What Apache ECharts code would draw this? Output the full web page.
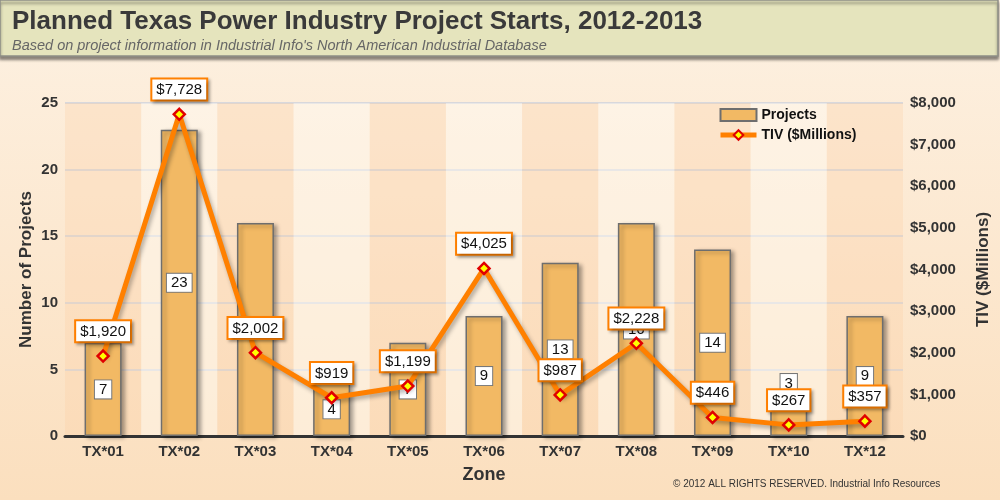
<!DOCTYPE html>
<html>
<head>
<meta charset="utf-8">
<script src="https://cdn.jsdelivr.net/npm/echarts@6/dist/echarts.min.js"></script>
<style>
html,body{margin:0;padding:0;}
#c{width:1000px;height:500px;}
</style>
</head>
<body>
<div id="c"></div>
<script>
var zones = ['TX*01','TX*02','TX*03','TX*04','TX*05','TX*06','TX*07','TX*08','TX*09','TX*10','TX*12'];
var projects = [7, 23, 16, 4, 7, 9, 13, 16, 14, 3, 9];
var tiv = [1920, 7728, 2002, 919, 1199, 4025, 987, 2228, 446, 267, 357];
var leftTicks = {min: 0, max: 25, interval: 5};
var rightTicks = {min: 0, max: 8000, interval: 1000};

function commas(v){ return String(v).replace(/\B(?=(\d{3})+(?!\d))/g, ','); }

var chart = echarts.init(document.getElementById('c'));
var font = 'Liberation Sans, Arial, Helvetica, sans-serif';

var barData = projects.map(function(v){
  return v < 4 ? {value: v, label: {position: 'top', distance: 4}} : v;
});

chart.setOption({
  backgroundColor: {
    type: 'linear', x: 0, y: 0, x2: 0, y2: 1,
    colorStops: [{offset: 0, color: '#fdf1e2'}, {offset: 1, color: '#fbdfbe'}]
  },
  textStyle: {fontFamily: font},
  graphic: [
    {type: 'rect', shape: {x: 0, y: 0, width: 998, height: 56},
     style: {fill: '#e5e4bd', stroke: '#8e8e86', lineWidth: 1.5,
       shadowColor: 'rgba(0,0,0,0.45)', shadowBlur: 3, shadowOffsetY: 3}, z: 0},
    {type: 'text', left: 12, top: 9,
     style: {text: 'Planned Texas Power Industry Project Starts, 2012-2013',
       font: 'bold 26px ' + font, fill: '#3a3a3a'}, z: 1},
    {type: 'text', left: 12, top: 38,
     style: {text: "Based on project information in Industrial Info's North American Industrial Database",
       font: 'italic 14.5px ' + font, fill: '#666'}, z: 1},
    {type: 'text', left: 673, top: 479,
     style: {text: '\u00a9 2012 ALL RIGHTS RESERVED. Industrial Info Resources',
       font: '10px ' + font, fill: '#333'}, z: 1}
  ],
  legend: {
    left: 713, top: 103, orient: 'vertical', itemGap: 6,
    itemWidth: 36, itemHeight: 12,
    textStyle: {fontFamily: font, fontWeight: 'bold', fontSize: 14, color: '#111'},
    data: [
      {name: 'Projects', icon: 'rect'},
      {name: 'TIV ($Millions)', lineStyle: {width: 5}}
    ]
  },
  grid: {left: 65, right: 95, top: 103, bottom: 64},
  xAxis: {
    type: 'category', data: zones,
    axisLine: {lineStyle: {color: '#333', width: 3}},
    axisTick: {show: false},
    axisLabel: {fontFamily: font, fontWeight: 'bold', fontSize: 15, color: '#333', margin: 8},
    splitArea: {show: true, areaStyle: {color: ['rgba(250,205,160,0.28)', 'rgba(255,250,242,0.45)']}},
    name: 'Zone', nameLocation: 'middle', nameGap: 30, nameMoveOverlap: false,
    nameTextStyle: {fontFamily: font, fontWeight: 'bold', fontSize: 18, color: '#333'}
  },
  yAxis: [
    {type: 'value', min: leftTicks.min, max: leftTicks.max, interval: leftTicks.interval,
     axisLine: {show: false}, axisTick: {show: false},
     axisLabel: {fontFamily: font, fontWeight: 'bold', fontSize: 15, color: '#333', margin: 7},
     splitLine: {lineStyle: {color: '#d8d8dc', width: 2}},
     name: 'Number of Projects', nameLocation: 'middle', nameGap: 30, nameMoveOverlap: false,
     nameTextStyle: {fontFamily: font, fontWeight: 'bold', fontSize: 17, color: '#333'}},
    {type: 'value', min: rightTicks.min, max: rightTicks.max, interval: rightTicks.interval,
     axisLine: {show: false}, axisTick: {show: false}, splitLine: {show: false},
     axisLabel: {fontFamily: font, fontWeight: 'bold', fontSize: 15, color: '#333', margin: 7,
       formatter: function(v){ return '$' + commas(v); }},
     name: 'TIV ($Millions)', nameLocation: 'middle', nameGap: 72, nameMoveOverlap: false,
     nameTextStyle: {fontFamily: font, fontWeight: 'bold', fontSize: 17, color: '#333'}}
  ],
  series: [
    {name: 'Projects', type: 'bar', data: barData, barWidth: 37, yAxisIndex: 0,
     itemStyle: {color: '#f2b964', borderColor: '#6e6e6e', borderWidth: 1.5,
       shadowColor: 'rgba(0,0,0,0.35)', shadowBlur: 4, shadowOffsetX: 3, shadowOffsetY: 2},
     label: {show: true, position: 'inside', fontFamily: font, fontSize: 15, color: '#111',
       backgroundColor: '#fff', borderColor: '#777', borderWidth: 1, padding: [2, 4, 1, 4]},
     z: 2},
    {name: 'TIV ($Millions)', type: 'line', data: tiv, yAxisIndex: 1,
     symbol: 'diamond', symbolSize: 11,
     lineStyle: {color: '#ff8000', width: 5, shadowColor: 'rgba(0,0,0,0.3)', shadowBlur: 4, shadowOffsetX: 2, shadowOffsetY: 3},
     itemStyle: {color: '#ffff00', borderColor: '#e00000', borderWidth: 2.5},
     label: {show: true, position: 'top', distance: 8, fontFamily: font, fontSize: 15, color: '#111',
       backgroundColor: '#fff', borderColor: '#ff8000', borderWidth: 2, padding: [3, 4, 2, 4],
       shadowColor: 'rgba(0,0,0,0.3)', shadowBlur: 3, shadowOffsetX: 2, shadowOffsetY: 2,
       formatter: function(p){ return '$' + commas(p.value); }},
     z: 5}
  ]
});
</script>
</body>
</html>
